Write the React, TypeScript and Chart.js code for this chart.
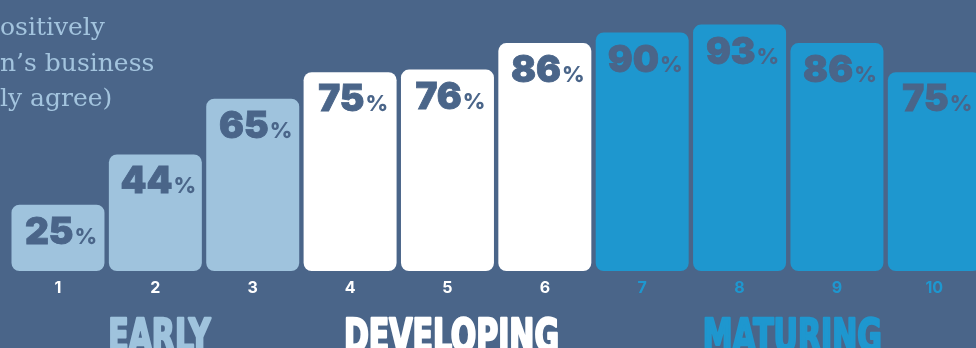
import React, { useEffect, useRef } from "react";
import { Chart, registerables } from "chart.js";

Chart.register(...registerables);

// ---- data ----
const categories = ["1", "2", "3", "4", "5", "6", "7", "8", "9", "10"];
const values = [25, 44, 65, 75, 76, 86, 90, 93, 86, 75];
const stages = ["EARLY", "DEVELOPING", "MATURING"];
const stageOf = [0, 0, 0, 1, 1, 1, 2, 2, 2, 2];
const captionLines = ["ositively", "n\u2019s business", "ly agree)"];

// ---- styles ----
const BG = "#4a6589";
const stageColors = ["#9fc3dd", "#ffffff", "#1e97cf"];
const tickColors = ["#ffffff", "#ffffff", "#1e97cf"];
const LABEL_COLOR = "#4a6589";
const CAPTION_COLOR = "#a3c4de";

const bgPlugin = {
  id: "bgFill",
  beforeDraw(chart: any) {
    const { ctx, width, height } = chart;
    ctx.save();
    ctx.fillStyle = BG;
    ctx.fillRect(0, 0, width, height);
    ctx.fillStyle = CAPTION_COLOR;
    ctx.font = "25px 'DejaVu Serif'";
    ctx.textAlign = "left";
    ctx.textBaseline = "alphabetic";
    const baselines = [35, 71, 106];
    captionLines.forEach((t, i) => ctx.fillText(t, 0, baselines[i]));
    ctx.restore();
  },
};

const barLabelPlugin = {
  id: "barLabels",
  afterDatasetsDraw(chart: any) {
    const { ctx } = chart;
    const meta = chart.getDatasetMeta(0);
    ctx.save();
    ctx.fillStyle = LABEL_COLOR;
    ctx.strokeStyle = LABEL_COLOR;
    ctx.lineWidth = 0.8;
    ctx.textBaseline = "alphabetic";
    ctx.textAlign = "left";
    meta.data.forEach((bar: any, i: number) => {
      const num = String(values[i]);
      ctx.font = "900 37px Inter";
      const wn = ctx.measureText(num).width;
      ctx.font = "800 22px Inter";
      const wp = ctx.measureText("%").width;
      const total = wn + 1 + wp;
      const x0 = bar.x + 3 - total / 2;
      const yb = bar.y + 39;
      ctx.font = "900 37px Inter";
      ctx.fillText(num, x0, yb);
      ctx.strokeText(num, x0, yb);
      ctx.font = "800 22px Inter";
      ctx.fillText("%", x0 + wn + 1, yb);
    });
    ctx.restore();
  },
};

const stagePlugin = {
  id: "stageLabels",
  afterDraw(chart: any) {
    const { ctx } = chart;
    const xs = chart.scales.x;
    ctx.save();
    ctx.font = "bold 45px 'DejaVu Sans Condensed'";
    ctx.textAlign = "center";
    ctx.textBaseline = "alphabetic";
    ctx.lineJoin = "round";
    stages.forEach((s, si) => {
      const idx = stageOf.map((g, i) => (g === si ? i : -1)).filter((i) => i >= 0);
      const cx = (xs.getPixelForValue(idx[0]) + xs.getPixelForValue(idx[idx.length - 1])) / 2 + 4;
      ctx.save();
      ctx.translate(cx, 351);
      ctx.scale(0.74, 1);
      ctx.fillStyle = stageColors[si];
      ctx.strokeStyle = stageColors[si];
      ctx.lineWidth = 2.5;
      ctx.fillText(s, 0, 0);
      ctx.strokeText(s, 0, 0);
      ctx.restore();
    });
    ctx.restore();
  },
};

export default function App() {
  const ref = useRef<HTMLCanvasElement>(null);
  useEffect(() => {
    document.body.style.margin = "0";
    document.body.style.overflow = "hidden";
    const chart = new Chart(ref.current!, {
      type: "bar",
      data: {
        labels: categories,
        datasets: [
          {
            data: values,
            backgroundColor: values.map((_, i) => stageColors[stageOf[i]]),
            borderRadius: 8,
            borderSkipped: false,
            borderWidth: 0,
            barPercentage: 0.955,
            categoryPercentage: 1,
          },
        ],
      },
      options: {
        responsive: false,
        animation: false,
        devicePixelRatio: 1,
        layout: { padding: { left: 9.3, right: 0, top: 6, bottom: 0 } },
        plugins: { legend: { display: false }, tooltip: { enabled: false } },
        scales: {
          x: {
            grid: { display: false, drawTicks: false, tickLength: 0 },
            border: { display: false },
            ticks: {
              padding: 7.5,
              font: { family: "Inter", weight: "bold", size: 16 },
              color: (c: any) => tickColors[stageOf[c.index]],
            },
            afterFit: (s: any) => {
              s.height = 77;
            },
          },
          y: {
            display: false,
            min: 0,
            max: 100,
          },
        },
      },
      plugins: [bgPlugin, barLabelPlugin, stagePlugin],
    });
    return () => chart.destroy();
  }, []);
  return (
    <div
      style={{
        position: "fixed",
        left: 0,
        top: 0,
        width: 976,
        height: 348,
        overflow: "hidden",
        background: BG,
      }}
    >
      <canvas ref={ref} width={983} height={348} style={{ display: "block" }} />
    </div>
  );
}
